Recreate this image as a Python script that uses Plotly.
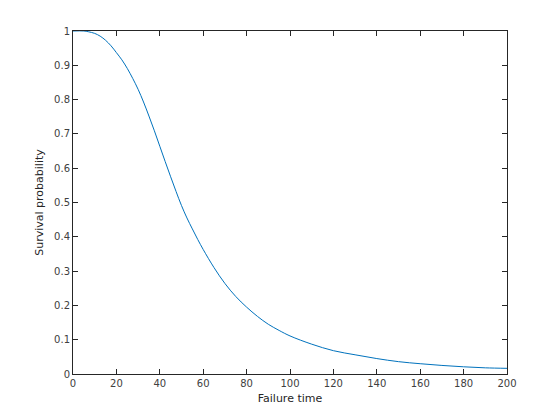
import plotly.graph_objects as go

failure_time = [0, 5, 7, 10, 12.5, 15, 17.5, 20, 22.5, 25, 27.5, 30, 32.5, 35, 37.5, 40,
                42.5, 45, 47.5, 50, 52.5, 55, 57.5, 60, 65, 70, 75, 80, 85, 90, 95, 100,
                110, 120, 130, 140, 150, 160, 170, 180, 190, 200]
survival = [1.0, 1.0, 0.998, 0.993, 0.985, 0.973, 0.957, 0.937, 0.916, 0.891, 0.862,
            0.830, 0.793, 0.752, 0.709, 0.664, 0.619, 0.575, 0.532, 0.491, 0.455,
            0.423, 0.392, 0.363, 0.310, 0.264, 0.226, 0.195, 0.168, 0.145, 0.127,
            0.111, 0.087, 0.068, 0.056, 0.045, 0.036, 0.030, 0.025, 0.021, 0.018, 0.0165]

fig = go.Figure()
fig.add_trace(go.Scatter(x=failure_time, y=survival, mode="lines",
                         line=dict(color="#0072BD", width=1, shape="spline", smoothing=1.0),
                         hoverinfo="skip", showlegend=False))

axis_common = dict(showgrid=False, zeroline=False, showline=True, linecolor="#262626",
                   linewidth=1, mirror="ticks", ticks="inside", ticklen=5, tickcolor="#262626",
                   tickfont=dict(family="DejaVu Sans", size=10, color="#404040"))

fig.update_layout(
    width=560, height=420,
    margin=dict(l=65, r=61, t=23, b=54),
    paper_bgcolor="white", plot_bgcolor="white",
    xaxis=dict(range=[0, 200], dtick=20, tick0=0,
               title=dict(text="Failure time", standoff=6,
                          font=dict(family="DejaVu Sans", size=11, color="#262626")),
               **axis_common),
    yaxis=dict(range=[0, 1], dtick=0.1, tick0=0,
               title=dict(text="Survival probability", standoff=8,
                          font=dict(family="DejaVu Sans", size=11, color="#262626")),
               **axis_common),
)

fig.write_html("out.html")
